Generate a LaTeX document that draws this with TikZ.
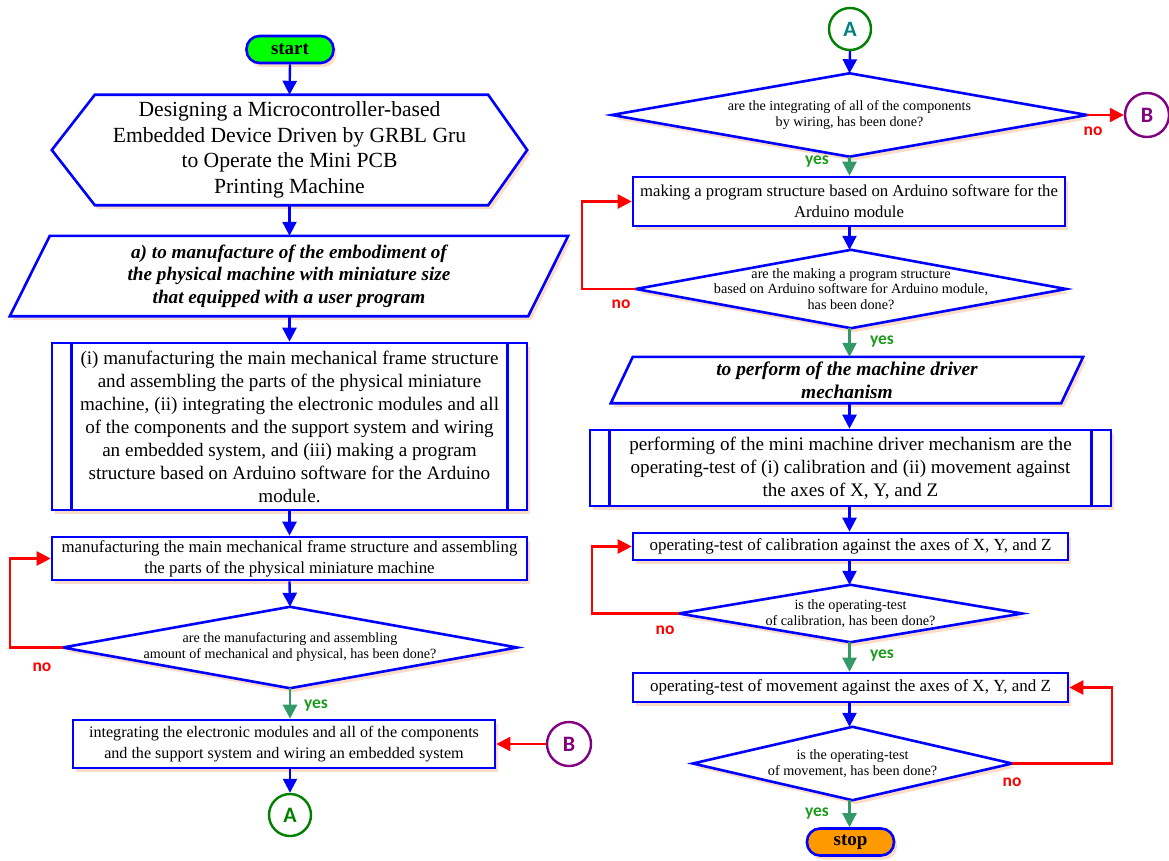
\documentclass[tikz,border=0pt]{standalone}
\usepackage{fontspec}
\setmainfont{Liberation Serif}
\newfontfamily\lblfont{Carlito}
\usetikzlibrary{arrows.meta,shadows,backgrounds,calc}
\definecolor{fblue}{HTML}{0000FF}
\definecolor{fred}{HTML}{FF0000}
\definecolor{yarrow}{HTML}{339966}
\definecolor{ytext}{HTML}{1E9A1E}
\definecolor{startgreen}{HTML}{00FF00}
\definecolor{stoporange}{HTML}{FF9900}
\definecolor{peach}{HTML}{FBDCC8}
\definecolor{agreen}{HTML}{008000}
\definecolor{ateal}{HTML}{008080}
\definecolor{bpurple}{HTML}{800080}
\newcommand\fsz[2]{\fontsize{#1}{#2}\selectfont}
\tikzset{
  sh/.style={drop shadow={shadow xshift=3pt,shadow yshift=-4pt,fill=peach,opacity=1}},
  outline/.style={draw=fblue,line width=2.6pt,fill=white,sh},
  ghost/.style={inner sep=0pt,align=center},
  proc/.style={outline,inner sep=0pt,align=center},
  term/.style={outline,rounded corners=13pt,inner sep=0pt,minimum width=87pt,minimum height=27pt,font=\bfseries\fsz{19}{22}},
  conn/.style={circle,line width=2.4pt,minimum size=42pt,inner sep=0pt,font=\lblfont\bfseries\fsz{22}{24}},
  arr/.style={draw=fblue,line width=2.4pt,-{Triangle[length=14pt,width=14pt]}},
  noarr/.style={draw=fred,line width=2.4pt,-{Triangle[length=14pt,width=14pt]}},
  yesarr/.style={draw=yarrow,line width=2.4pt,-{Triangle[length=14pt,width=14pt]}},
  nolbl/.style={text=fred,font=\lblfont\bfseries\fsz{17.5}{19},inner sep=0pt},
  yeslbl/.style={text=ytext,font=\lblfont\bfseries\fsz{17.5}{19},inner sep=0pt},
  inner/.style={draw=fblue,line width=2.6pt}
}
\begin{document}
\begin{tikzpicture}[x=1pt,y=-1pt]
\useasboundingbox (0,0) rectangle (1169,861);
% ---------------- left column ----------------
\node[term,fill=startgreen] (start) at (290,49.5) {start};
\node[ghost,minimum width=475pt,minimum height=110pt,font=\fsz{21.6}{25.5}] (title) at (289.5,150)
  {Designing a Microcontroller-based\\Embedded Device Driven by GRBL Gru\\to Operate the Mini PCB\\Printing Machine};
\node[ghost,minimum width=558pt,minimum height=80pt,font=\bfseries\itshape\fsz{19.2}{22.5}] (para1) at (289,276)
  {a) to manufacture of the embodiment of\\the physical machine with miniature size\\that equipped with a user program};
\node[proc,minimum width=475pt,minimum height=167pt,font=\fsz{19.1}{23}] (pre1) at (289.5,426.5)
  {(i) manufacturing the main mechanical frame structure\\and assembling the parts of the physical miniature\\machine, (ii) integrating the electronic modules and all\\of the components and the support system and wiring\\an embedded system, and (iii) making a program\\structure based on Arduino software for the Arduino\\module.};
\draw[inner] ($(pre1.north west)+(21,0)$) -- ($(pre1.south west)+(21,0)$);
\draw[inner] ($(pre1.north east)+(-21,0)$) -- ($(pre1.south east)+(-21,0)$);
\node[proc,minimum width=475pt,minimum height=43pt,font=\fsz{16.8}{21}] (box2) at (289.5,558.5)
  {manufacturing the main mechanical frame structure and assembling\\the parts of the physical miniature machine};
\node[ghost,minimum width=454pt,minimum height=81pt,font=\fsz{14.1}{16}] (d1) at (290,647.5)
  {are the manufacturing and assembling\\amount of mechanical and physical, has been done?};
\node[proc,minimum width=422pt,minimum height=48pt,font=\fsz{16.1}{21}] (box3) at (284,744)
  {integrating the electronic modules and all of the components\\and the support system and wiring an embedded system};
\node[conn,draw=agreen,text=agreen] (a1) at (290,815) {A};
\node[conn,draw=bpurple,text=bpurple,minimum size=44pt] (b1) at (569,744) {B};
% ---------------- right column ----------------
\node[conn,draw=agreen,text=ateal] (a2) at (850,29) {A};
\node[ghost,minimum width=475pt,minimum height=83pt,font=\fsz{14.1}{16}] (d2) at (849.5,115)
  {are the integrating of all of the components\\by wiring, has been done?};
\node[conn,draw=bpurple,text=bpurple,minimum size=44pt] (b2) at (1147,115) {B};
\node[proc,minimum width=432pt,minimum height=49pt,font=\fsz{16.7}{21}] (box4) at (849,201.5)
  {making a program structure based on Arduino software for the\\Arduino module};
\node[ghost,minimum width=430pt,minimum height=78pt,font=\fsz{14.2}{15.5}] (d3) at (851,289)
  {are the making a program structure\\based on Arduino software for Arduino module,\\has been done?};
\node[ghost,minimum width=472pt,minimum height=46pt,font=\bfseries\itshape\fsz{19.4}{23}] (para2) at (847,380)
  {to perform of the machine driver\\mechanism};
\node[proc,minimum width=521pt,minimum height=76pt,font=\fsz{19.1}{23}] (pre2) at (850.5,468)
  {performing of the mini machine driver mechanism are the\\operating-test of (i) calibration and (ii) movement against\\the axes of X, Y, and Z};
\draw[inner] ($(pre2.north west)+(21,0)$) -- ($(pre2.south west)+(21,0)$);
\draw[inner] ($(pre2.north east)+(-21,0)$) -- ($(pre2.south east)+(-21,0)$);
\node[proc,minimum width=435pt,minimum height=27pt,font=\fsz{17}{20}] (box5) at (850.5,546.5)
  {operating-test of calibration against the axes of X, Y, and Z};
\node[ghost,minimum width=343pt,minimum height=57pt,font=\fsz{14.2}{15.5}] (d4) at (850.5,613.5)
  {is the operating-test\\of calibration, has been done?};
\node[proc,minimum width=435pt,minimum height=29pt,font=\fsz{17}{20}] (box6) at (850.5,687.5)
  {operating-test of movement against the axes of X, Y, and Z};
\node[ghost,minimum width=319pt,minimum height=73pt,font=\fsz{14.2}{15.5}] (d5) at (852.5,763.5)
  {is the operating-test\\of movement, has been done?};
\node[term,fill=stoporange] (stop) at (850.5,842) {stop};
% ---------------- drawn outlines ----------------
\begin{pgfonlayer}{background}
\path[outline] (title.west) -- ($(title.north west)+(43,0)$) -- ($(title.north east)+(-39,0)$) -- (title.east)
  -- ($(title.south east)+(-39,0)$) -- ($(title.south west)+(43,0)$) -- cycle;
\path[outline] ($(para1.north west)+(40,0)$) -- (para1.north east) -- ($(para1.south east)+(-40,0)$) -- (para1.south west) -- cycle;
\path[outline] ($(para2.north west)+(22,0)$) -- (para2.north east) -- ($(para2.south east)+(-22,0)$) -- (para2.south west) -- cycle;
\foreach \d in {d1,d2,d3,d4,d5}{
  \path[outline] (\d.north) -- (\d.east) -- (\d.south) -- (\d.west) -- cycle;
}
\end{pgfonlayer}
% ---------------- connectors ----------------
\coordinate (l1) at (10,558.5);
\coordinate (l3) at (582,201.5);
\coordinate (l4) at (592,546.5);
\coordinate (l5) at (1112,687.5);
\draw[arr] (start.south) -- (title.north);
\draw[arr] (title.south) -- (title.south |- para1.north);
\draw[arr] (title.south |- para1.south) -- (title.south |- pre1.north);
\draw[arr] (pre1.south) -- (box2.north);
\draw[arr] (box2.south) -- (d1.north);
\draw[noarr] (d1.west) -| (l1) -- (box2.west);
\draw[yesarr] (d1.south) -- (d1.south |- box3.north);
\draw[noarr] (b1.west) -- (box3.east);
\draw[arr] (d1.south |- box3.south) -- (a1.north);
\draw[arr] (a2.south) -- (d2.north);
\draw[noarr] (d2.east) -- (b2.west);
\draw[yesarr] (d2.south) -- (d2.south |- box4.north);
\draw[arr] (d2.south |- box4.south) -- (d2.south |- d3.north);
\draw[noarr] (d3.west) -| (l3) -- (box4.west);
\draw[yesarr] (d2.south |- d3.south) -- (d2.south |- para2.north);
\draw[arr] (d2.south |- para2.south) -- (d2.south |- pre2.north);
\draw[arr] (d2.south |- pre2.south) -- (d2.south |- box5.north);
\draw[arr] (d2.south |- box5.south) -- (d2.south |- d4.north);
\draw[noarr] (d4.west) -| (l4) -- (box5.west);
\draw[yesarr] (d2.south |- d4.south) -- (d2.south |- box6.north);
\draw[arr] (d2.south |- box6.south) -- (d2.south |- d5.north);
\draw[noarr] (d5.east) -| (l5) -- (box6.east);
\draw[yesarr] (d2.south |- d5.south) -- (d2.south |- stop.north);
% ---------------- labels ----------------
\node[nolbl] (n1) at (42,667) {no};
\node[yeslbl] (y1) at (316,706) {yes};
\node[nolbl] (n2) at (1093,131) {no};
\node[yeslbl] (y2) at (817,162) {yes};
\node[nolbl] (n3) at (621,304) {no};
\node[yeslbl] (y3) at (882,342) {yes};
\node[nolbl] (n4) at (665,630) {no};
\node[yeslbl] (y4) at (882,656) {yes};
\node[nolbl] (n5) at (1012,782) {no};
\node[yeslbl] (y5) at (817,814) {yes};
\end{tikzpicture}
\end{document}
